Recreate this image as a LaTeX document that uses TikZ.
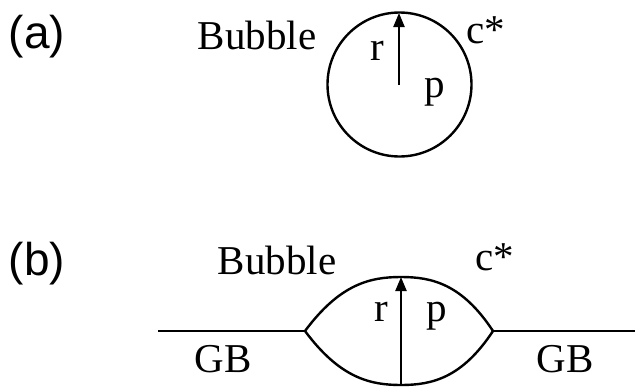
\documentclass[tikz,border=0pt]{standalone}
\usepackage{fontspec}
\setmainfont{Liberation Serif}
\newfontfamily\lblfont{Liberation Sans}
\usetikzlibrary{arrows.meta}
\begin{document}
\begin{tikzpicture}[x=1pt,y=-1pt,
  txt/.style={font=\fontsize{41}{41}\selectfont, inner sep=0pt},
  lbl/.style={font=\lblfont\fontsize{46}{46}\selectfont, inner sep=0pt},
  ln/.style={line width=2.4pt, black},
  arr/.style={line width=2.2pt, -{Triangle[length=14pt,width=11pt]}}]
\useasboundingbox (0,0) rectangle (635,389);
% (a)
\node[lbl] (la) at (37,37) {(a)};
\draw[ln] (399.5,84.5) circle [radius=72];
\coordinate (ca) at (399,85);
\coordinate (ta) at (399,13);
\draw[arr] (ca) -- (ta);
\node[txt] (bua) at (257,35.5) {Bubble};
\node[txt] (ra) at (377,51) {r};
\node[txt] (pa) at (435,92) {p};
\node[txt] (csa) at (486,30) {c*};
% (b)
\node[lbl] (lb) at (37,264) {(b)};
\coordinate (vl) at (305,331);
\coordinate (vr) at (493,331);
\coordinate (gl) at (158,331);
\coordinate (gr) at (640,331);
\coordinate (tb) at (401,277);
\coordinate (bb) at (401,385);
\draw[ln] (gl) -- (vl);
\draw[ln] (vr) -- (gr);
\draw[ln] (vl) .. controls (340,284) and (370,277) .. (tb) .. controls (432,277) and (462,284) .. (vr);
\draw[ln] (vl) .. controls (340,378) and (370,385) .. (bb) .. controls (432,385) and (462,378) .. (vr);
\draw[arr] (bb) -- (tb);
\node[txt] (bub) at (277,260) {Bubble};
\node[txt] (csb) at (495,257) {c*};
\node[txt] (rb) at (381,312) {r};
\node[txt] (pb) at (437,316) {p};
\node[txt] (gbl) at (223,359) {GB};
\node[txt] (gbr) at (565,359) {GB};
\end{tikzpicture}
\end{document}
